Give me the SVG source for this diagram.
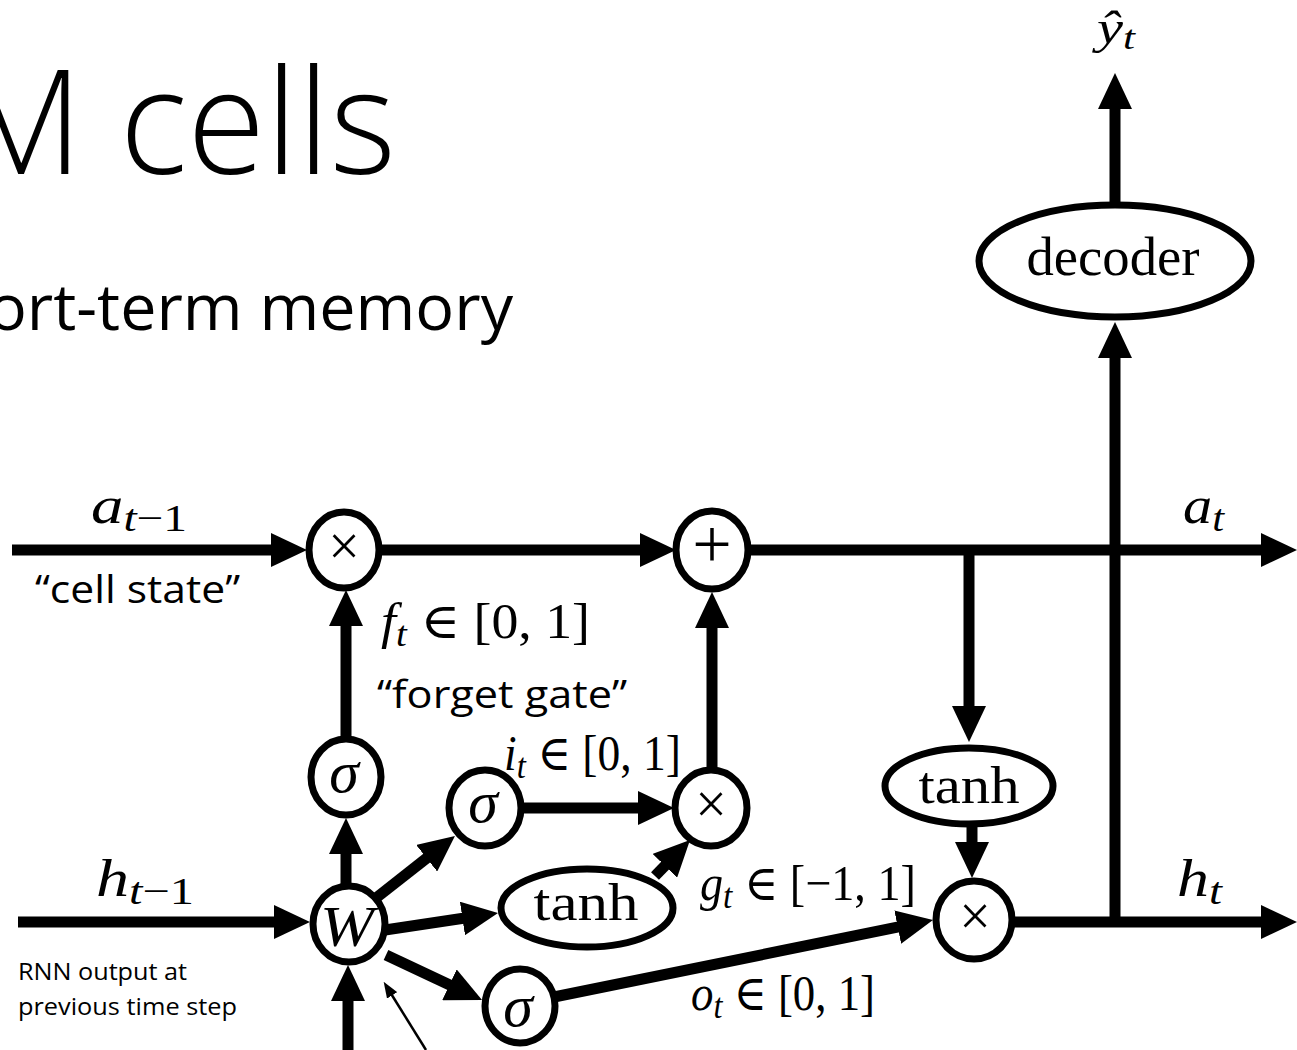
<svg xmlns="http://www.w3.org/2000/svg" width="1297" height="1050" viewBox="0 0 1297 1050">
<style>
.conn{stroke:#000;stroke-width:11;fill:none;marker-end:url(#ah)}
.node{fill:#fff;stroke:#000;stroke-width:7}
.math{font-family:"Liberation Serif","DejaVu Serif",serif;fill:#000}
.it{font-style:italic}
.sans{font-family:"Open Sans","Noto Sans",sans-serif;fill:#000}
</style>
<defs>
<marker id="ah" markerUnits="userSpaceOnUse" markerWidth="36" markerHeight="34" refX="11" refY="17" orient="auto">
<path d="M0,0 L36,17 L0,34 z" fill="#000"/>
</marker>
<marker id="ahs" markerUnits="userSpaceOnUse" markerWidth="16" markerHeight="12" refX="4" refY="6" orient="auto">
<path d="M0,0 L16,6 L0,12 z" fill="#000"/>
</marker>
</defs>
<rect width="1297" height="1050" fill="#fff"/>
<g id="title">
<text class="sans" x="-40" y="174" font-size="145" font-weight="350" textLength="436" lengthAdjust="spacingAndGlyphs">M cells</text>
<text class="sans" x="-12" y="330" font-size="64" textLength="525" lengthAdjust="spacingAndGlyphs">ort-term memory</text>
</g>
<g id="connectors">
<line class="conn" x1="12" y1="550" x2="282" y2="550"/>
<line class="conn" x1="380" y1="550" x2="651" y2="550"/>
<line class="conn" x1="750" y1="550" x2="1272" y2="550"/>
<line class="conn" x1="969" y1="550" x2="969" y2="717"/>
<line class="conn" x1="1115" y1="922" x2="1115" y2="347"/>
<line class="conn" x1="1115" y1="205" x2="1115" y2="98"/>
<line class="conn" x1="972" y1="822" x2="972" y2="853"/>
<line class="conn" x1="1013" y1="922" x2="1272" y2="922"/>
<line class="conn" x1="18" y1="922" x2="285" y2="922"/>
<line class="conn" x1="346" y1="886" x2="346" y2="843"/>
<line class="conn" x1="346" y1="740" x2="346" y2="615"/>
<line class="conn" x1="520" y1="808" x2="649" y2="808"/>
<line class="conn" x1="712" y1="770" x2="712" y2="617"/>
<line class="conn" x1="376" y1="898" x2="435.3" y2="851.4"/>
<line class="conn" x1="385" y1="930" x2="473.3" y2="916.8"/>
<line class="conn" x1="655" y1="876" x2="672.6" y2="857.9"/>
<line class="conn" x1="386" y1="955" x2="459.4" y2="989.4"/>
<line class="conn" x1="554" y1="997" x2="908.5" y2="924.9"/>
<line class="conn" x1="348" y1="1050" x2="348" y2="990"/>
<line x1="426" y1="1050" x2="390" y2="992" stroke="#000" stroke-width="2.5" marker-end="url(#ahs)"/>
</g>
<g id="node-times-f"><ellipse class="node" cx="344" cy="550" rx="35" ry="38"/><text class="math" x="344" y="565" font-size="56" text-anchor="middle">×</text></g>
<g id="node-plus"><ellipse class="node" cx="712" cy="550" rx="36" ry="39"/><text class="math" x="712" y="568" font-size="70" text-anchor="middle">+</text></g>
<g id="node-sigma-f"><ellipse class="node" cx="346" cy="777" rx="35" ry="38"/><text class="math it" x="344" y="792" font-size="60" text-anchor="middle">σ</text></g>
<g id="node-sigma-i"><ellipse class="node" cx="485" cy="808" rx="36" ry="38"/><text class="math it" x="483" y="822" font-size="60" text-anchor="middle">σ</text></g>
<g id="node-times-i"><ellipse class="node" cx="711" cy="808" rx="36" ry="38"/><text class="math" x="711" y="823" font-size="56" text-anchor="middle">×</text></g>
<g id="node-W"><ellipse class="node" cx="349" cy="924" rx="36" ry="38"/><text class="math it" x="347" y="946" font-size="56" text-anchor="middle" textLength="54" lengthAdjust="spacingAndGlyphs">W</text></g>
<g id="node-tanh-g"><ellipse class="node" cx="587" cy="908" rx="86" ry="39"/><text class="math" x="586" y="920" font-size="52" text-anchor="middle" textLength="105" lengthAdjust="spacingAndGlyphs">tanh</text></g>
<g id="node-sigma-o"><ellipse class="node" cx="520" cy="1006" rx="35" ry="37"/><text class="math it" x="518" y="1026" font-size="60" text-anchor="middle">σ</text></g>
<g id="node-tanh-c"><ellipse class="node" cx="969" cy="786" rx="84" ry="38"/><text class="math" x="969" y="803" font-size="52" text-anchor="middle" textLength="101" lengthAdjust="spacingAndGlyphs">tanh</text></g>
<g id="node-times-o"><ellipse class="node" cx="974" cy="920" rx="38" ry="39"/><text class="math" x="975" y="935" font-size="56" text-anchor="middle">×</text></g>
<g id="node-decoder"><ellipse class="node" cx="1115" cy="261" rx="136" ry="56"/><text class="math" x="1113" y="275" font-size="54" text-anchor="middle" textLength="173" lengthAdjust="spacingAndGlyphs">decoder</text></g>
<g id="labels">
<text class="math" x="91" y="523" font-size="52" textLength="96" lengthAdjust="spacingAndGlyphs"><tspan class="it">a</tspan><tspan class="it" font-size="38" dy="8">t</tspan><tspan font-size="38">−1</tspan></text>
<text class="math" x="1183" y="523" font-size="52" textLength="41" lengthAdjust="spacingAndGlyphs"><tspan class="it">a</tspan><tspan class="it" font-size="38" dy="8">t</tspan></text>
<text class="math" x="96" y="896" font-size="52" textLength="98" lengthAdjust="spacingAndGlyphs"><tspan class="it">h</tspan><tspan class="it" font-size="38" dy="8">t</tspan><tspan font-size="38">−1</tspan></text>
<text class="math" x="1177" y="896" font-size="52" textLength="45" lengthAdjust="spacingAndGlyphs"><tspan class="it">h</tspan><tspan class="it" font-size="38" dy="8">t</tspan></text>
<text class="math" x="1097" y="43" font-size="46" textLength="38" lengthAdjust="spacingAndGlyphs"><tspan class="it">ŷ</tspan><tspan class="it" font-size="34" dy="6">t</tspan></text>
<text class="math" x="381" y="638" font-size="50" textLength="209" lengthAdjust="spacingAndGlyphs"><tspan class="it">f</tspan><tspan class="it" font-size="36" dy="8">t</tspan><tspan dy="-8"> ∈ [0, 1]</tspan></text>
<text class="math" x="504" y="770" font-size="50" textLength="177" lengthAdjust="spacingAndGlyphs"><tspan class="it">i</tspan><tspan class="it" font-size="36" dy="8">t</tspan><tspan dy="-8"> ∈ [0, 1]</tspan></text>
<text class="math" x="700" y="900" font-size="50" textLength="216" lengthAdjust="spacingAndGlyphs"><tspan class="it">g</tspan><tspan class="it" font-size="36" dy="8">t</tspan><tspan dy="-8"> ∈ [−1, 1]</tspan></text>
<text class="math" x="691" y="1010" font-size="50" textLength="184" lengthAdjust="spacingAndGlyphs"><tspan class="it">o</tspan><tspan class="it" font-size="36" dy="8">t</tspan><tspan dy="-8"> ∈ [0, 1]</tspan></text>
<text class="sans" x="35" y="603" font-size="38" textLength="205" lengthAdjust="spacingAndGlyphs">“cell state”</text>
<text class="sans" x="377" y="708" font-size="38" textLength="250" lengthAdjust="spacingAndGlyphs">“forget gate”</text>
<text class="sans" x="18" y="980" font-size="23" textLength="169" lengthAdjust="spacingAndGlyphs">RNN output at</text>
<text class="sans" x="18" y="1015" font-size="23" textLength="219" lengthAdjust="spacingAndGlyphs">previous time step</text>
</g>
</svg>
